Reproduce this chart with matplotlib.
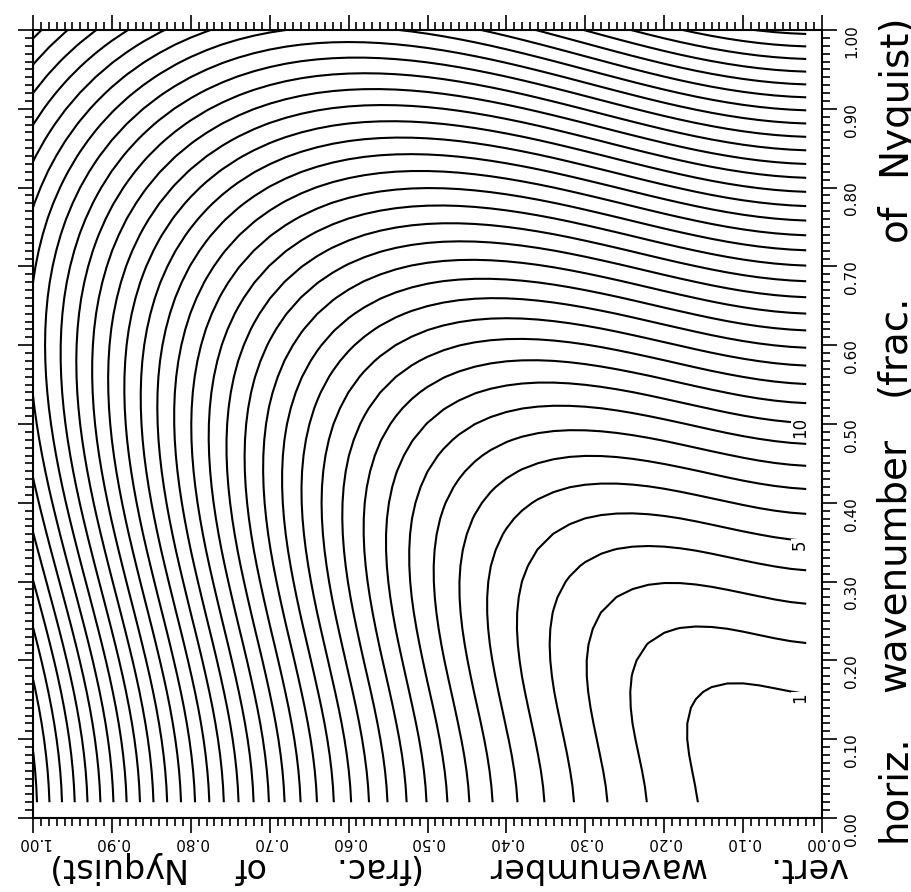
import matplotlib
matplotlib.use("Agg")
import matplotlib.pyplot as plt
import numpy as np
from matplotlib.ticker import MultipleLocator

# sampled wavenumbers, fraction of Nyquist (grid of the original plot)
horiz_k = np.arange(1, 51) * 0.02
vert_k = np.arange(1, 51) * 0.02

# contour levels: percent phase-speed error
levels = list(range(1, 37))
labelled_levels = [1, 5, 10]

tick_values = [0.0, 0.1, 0.2, 0.3, 0.4, 0.5, 0.6, 0.7, 0.8, 0.9, 1.0]
tick_labels = ["0.00", "0.10", "0.20", "0.30", "0.40", "0.50",
               "0.60", "0.70", "0.80", "0.90", "1.00"]

bottom_words = ["vert.", "wavenumber", "(frac.", "of", "Nyquist)"]
right_words = ["horiz.", "wavenumber", "(frac.", "of", "Nyquist)"]

# field: relative error of the discrete phase speed, 2nd order staggered grid
H, V = np.meshgrid(horiz_k, vert_k, indexing="ij")
xh = np.pi * H / 2
xv = np.pi * V / 2
err = 100 * (1 - np.sqrt((np.sin(xh) ** 2 + np.sin(xv) ** 2) / (xh ** 2 + xv ** 2)))

W, Hpx = 912, 892
fig = plt.figure(figsize=(W / 100, Hpx / 100), dpi=100)
fig.patch.set_facecolor("white")
ax = fig.add_axes([33 / W, 74 / Hpx, 789 / W, 788 / Hpx])

cs = ax.contour(V, H, err, levels=levels, colors="k", linewidths=1.5)

# label a few contours near their right-hand end
for lev in labelled_levels:
    seg = max(cs.allsegs[levels.index(lev)], key=len)
    pts = seg[seg[:, 0] < 0.07]
    pts = pts[np.argsort(pts[:, 0])]
    y_end = np.interp(0.03, pts[:, 0], pts[:, 1])
    ax.text(0.028, y_end - 0.006, str(lev), rotation=90, fontsize=12,
            ha="center", va="center", zorder=5,
            bbox=dict(facecolor="white", edgecolor="none", pad=0.3))

ax.set_xlim(1, 0)
ax.set_ylim(0, 1)
ax.set_xticks(tick_values, tick_labels)
ax.set_yticks(tick_values, tick_labels)
ax.xaxis.set_minor_locator(MultipleLocator(0.01))
ax.yaxis.set_minor_locator(MultipleLocator(0.01))

for sp in ax.spines.values():
    sp.set_linewidth(1.5)

ax.tick_params(axis="both", which="both", direction="out", width=1.2,
               top=True, bottom=True, left=True, right=True,
               labelsize=11)
ax.tick_params(axis="both", which="major", length=11)
ax.tick_params(axis="both", which="minor", length=5.5)
ax.tick_params(axis="x", labelrotation=180, pad=1.5)
ax.tick_params(axis="y", labelleft=False, labelright=True,
               labelrotation=90, pad=5)

# axis titles, written word by word as in the original plotter output
for word, xc in zip(bottom_words, [808, 596, 375, 248, 113]):
    fig.text(xc / W, 1 - 858 / Hpx, word, rotation=180, rotation_mode="anchor",
             ha="center", va="baseline", fontsize=24)
for word, yc in zip(right_words, [788, 565, 345, 222, 95]):
    fig.text(905 / W, 1 - yc / Hpx, word, rotation=90, rotation_mode="anchor",
             ha="center", va="baseline", fontsize=28)

fig.savefig("out.png", dpi=100, facecolor="white")
